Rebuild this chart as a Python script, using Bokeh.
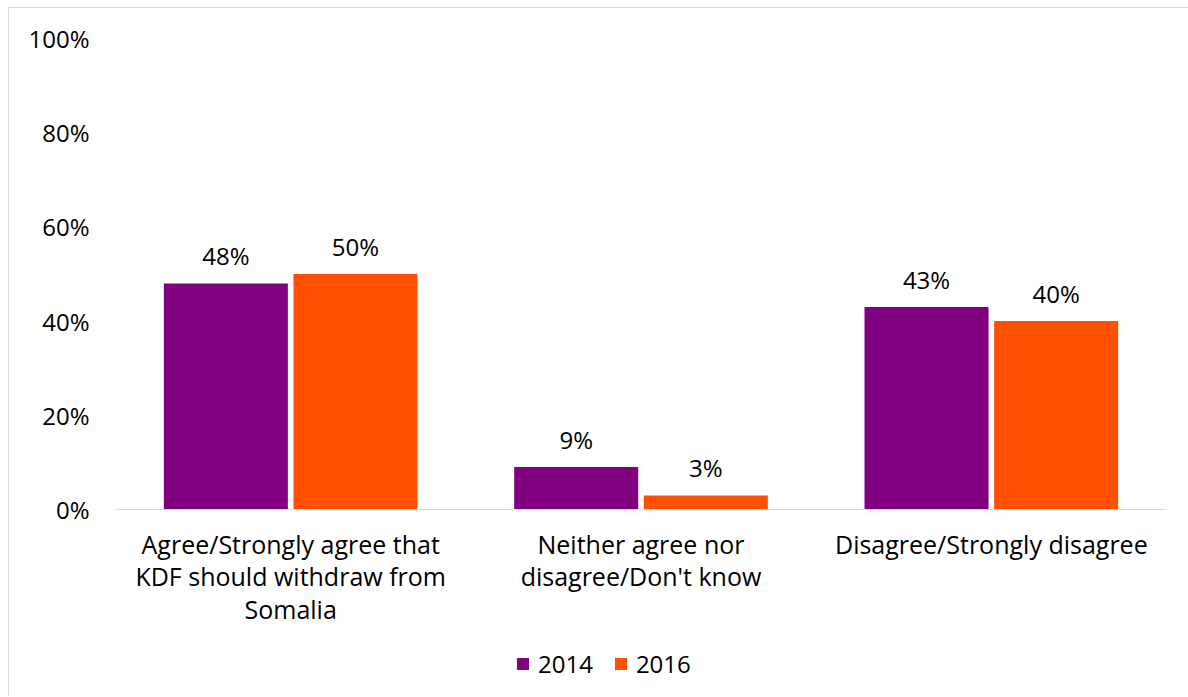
from bokeh.plotting import figure
from bokeh.models import (ColumnDataSource, FactorRange, Range1d, FixedTicker,
                          PrintfTickFormatter, Legend, LegendItem, Span)
from bokeh.transform import dodge
from bokeh.core.properties import value
from bokeh.embed import file_html
from bokeh.resources import INLINE

categories = ["Agree/Strongly agree that\nKDF should withdraw from\nSomalia",
              "Neither agree nor\ndisagree/Don't know",
              "Disagree/Strongly disagree"]
years = ["2014", "2016"]
v2014 = [48, 9, 43]
v2016 = [50, 3, 40]
y_ticks = [0, 20, 40, 60, 80, 100]

C2014 = "#800080"
C2016 = "#FF5000"
FONT = "Open Sans"

src = ColumnDataSource(dict(
    cat=categories, v2014=v2014, v2016=v2016, base=[0] * len(categories),
    l2014=[f"{v}%" for v in v2014], l2016=[f"{v}%" for v in v2016],
))

# frame extends below the 0% baseline so that the category labels and the
# legend sit inside it (0% at 471px below the 100% line)
p = figure(frame_width=1051, frame_height=658,
           x_range=FactorRange(factors=categories, range_padding=0),
           y_range=Range1d(-39.7, 100), output_backend="svg", toolbar_location=None,
           min_border_left=106, min_border_right=22, min_border_top=30, min_border_bottom=0,
           styles={"margin": "7px 0px 0px 8px",
                   "border-left": "1px solid #d9d9d9",
                   "border-top": "1px solid #d9d9d9"})

r1 = p.vbar(x=dodge("cat", -0.185, range=p.x_range), top="v2014", width=0.354,
            source=src, fill_color=C2014, line_color=None)
r2 = p.vbar(x=dodge("cat", 0.185, range=p.x_range), top="v2016", width=0.354,
            source=src, fill_color=C2016, line_color=None)

for off, col in [(-0.185, "l2014"), (0.185, "l2016")]:
    p.text(x=dodge("cat", off, range=p.x_range), y=col.replace("l", "v"), text=col, source=src,
           text_align="center", text_baseline="bottom", y_offset=-11,
           text_font=value(FONT), text_font_size="24px", text_color="#000000")

# category axis: baseline rule and labels
p.add_layout(Span(location=0, dimension="width", line_color="#d9d9d9", line_width=1))
p.text(x="cat", y="base", text="cat", source=src, text_align="center", text_baseline="top",
       y_offset=17, text_font=value(FONT), text_font_size="25px", text_color="#000000",
       text_line_height=0.97)

p.xaxis.visible = False
p.xgrid.grid_line_color = None
p.ygrid.grid_line_color = None
p.outline_line_color = None

p.yaxis.ticker = FixedTicker(ticks=y_ticks)
p.yaxis.formatter = PrintfTickFormatter(format="%d%%")
p.yaxis.axis_line_color = None
p.yaxis.major_tick_line_color = None
p.yaxis.minor_tick_line_color = None
p.yaxis.major_label_standoff = 20
p.yaxis.major_label_text_font = FONT
p.yaxis.major_label_text_font_size = "24px"
p.yaxis.major_label_text_color = "#000000"

legend = Legend(items=[LegendItem(label=years[0], renderers=[r1]),
                       LegendItem(label=years[1], renderers=[r2])],
                orientation="horizontal", location=(400, 16),
                label_text_font=FONT, label_text_font_size="24px", label_text_color="#000000",
                glyph_width=15, glyph_height=15, spacing=20, label_standoff=8,
                border_line_color=None, background_fill_alpha=0,
                margin=0, padding=0)
p.add_layout(legend)

open("out.html", "w").write(file_html(p, INLINE))
